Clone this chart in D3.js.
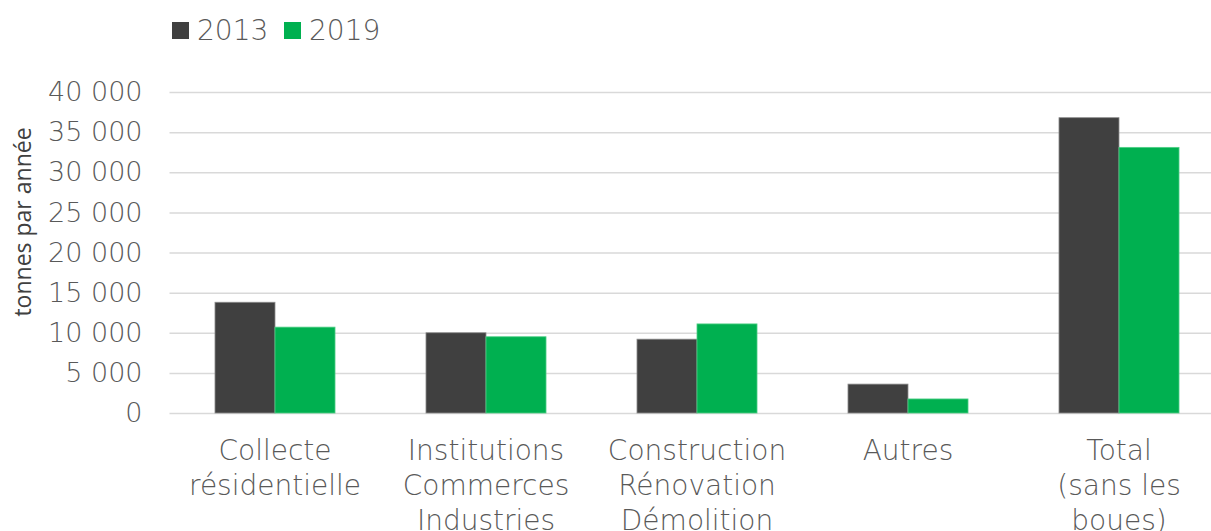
<!DOCTYPE html>
<html>
<head>
<meta charset="utf-8">
<script src="https://cdn.jsdelivr.net/npm/d3@7"></script>
<style>
  body { margin: 0; background: #fff; overflow: hidden; }
  text { font-family: "DejaVu Sans", Lato, sans-serif; font-weight: 200; }
</style>
</head>
<body>
<div class="canvas"></div>
<script>
const categories = [
  ['Collecte', 'résidentielle'],
  ['Institutions', 'Commerces', 'Industries'],
  ['Construction', 'Rénovation', 'Démolition'],
  ['Autres'],
  ['Total', '(sans les', 'boues)']
];
const series = ['2013', '2019'];
const values2013 = [13800, 10000, 9200, 3600, 36800];
const values2019 = [10700, 9500, 11100, 1750, 33100];
const yTicks = [0, 5000, 10000, 15000, 20000, 25000, 30000, 35000, 40000];
const colors = ['#404040', '#00b050'];

const width = 1211, height = 531;
// the plot area runs past the right edge, like the original
const plot = { left: 169.5, right: 1224.5, top: 92, bottom: 413 };

const svg = d3.select('.canvas')
  .append('svg')
  .attr('width', width)
  .attr('height', height);

const keys = categories.map((c, i) => i);
const x = d3.scaleBand()
  .domain(keys)
  .range([plot.left, plot.right]);

// two bars of ~60px centred in each 211px band
const xSub = d3.scaleBand()
  .domain(series)
  .range([0, x.bandwidth()])
  .paddingOuter(0.758);

const y = d3.scaleLinear()
  .domain([0, 40000])
  .range([plot.bottom, plot.top]);

// gridlines + tick labels
const fmt = v => d3.format(',')(v).replace(/,/g, ' ');
const yAxis = svg.append('g')
  .attr('transform', `translate(${plot.left},0)`)
  .call(d3.axisLeft(y).tickValues(yTicks).tickFormat(fmt)
    .tickSize(-(plot.right - plot.left)).tickPadding(27));
yAxis.select('.domain').remove();
yAxis.selectAll('.tick line')
  .attr('stroke', '#d9d9d9')
  .attr('stroke-width', 1.5);
yAxis.selectAll('.tick text')
  .attr('fill', '#595959')
  .style('font-size', '27px');

// bars
const rows = keys.map(i => ({ i, vals: [values2013[i], values2019[i]] }));
const groups = svg.append('g').selectAll('g')
  .data(rows)
  .join('g')
  .attr('transform', d => `translate(${x(d.i)},0)`);

groups.selectAll('rect')
  .data(d => d.vals.map((v, k) => ({ key: series[k], v, k })))
  .join('rect')
  .attr('x', d => xSub(d.key))
  .attr('y', d => y(d.v))
  .attr('width', xSub.bandwidth())
  .attr('height', d => y(0) - y(d.v))
  .attr('fill', d => colors[d.k])
  .attr('stroke', d => d.k === 0 ? '#8c8c8c' : '#4fcf86')
  .attr('stroke-width', 0.8);

// category labels
const labels = svg.append('g').selectAll('text')
  .data(categories)
  .join('text')
  .attr('text-anchor', 'middle')
  .attr('fill', '#595959')
  .style('font-size', '28px')
  .attr('transform', (d, i) => `translate(${x(i) + x.bandwidth() / 2},460)`);
labels.selectAll('tspan')
  .data(d => d)
  .join('tspan')
  .attr('x', 0)
  .attr('dy', (d, j) => j === 0 ? 0 : 35)
  .text(d => d);

// y title
svg.append('text')
  .attr('transform', 'translate(31,222) rotate(-90)')
  .attr('text-anchor', 'middle')
  .attr('fill', '#404040')
  .style('font-family', '"Open Sans", Lato, sans-serif')
  .style('font-size', '23px')
  .style('font-weight', 400)
  .text('tonnes par année');

// legend
const legendX = [172, 284];
const legend = svg.append('g').selectAll('g')
  .data(series)
  .join('g')
  .attr('transform', (d, i) => `translate(${legendX[i]},22)`);
legend.append('rect')
  .attr('width', 17).attr('height', 17)
  .attr('fill', (d, i) => colors[i]);
legend.append('text')
  .attr('x', 25).attr('y', 18)
  .attr('fill', '#595959')
  .style('font-size', '28px')
  .text(d => d);
</script>
</body>
</html>
